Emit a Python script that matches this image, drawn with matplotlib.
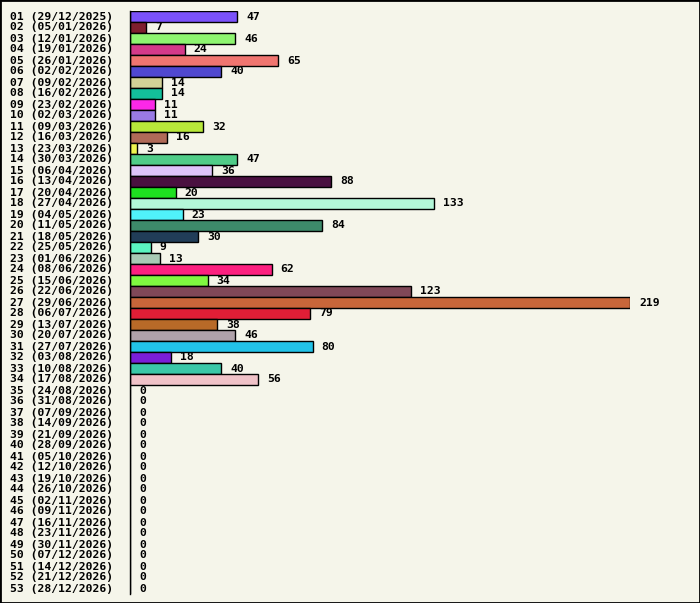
import matplotlib.pyplot as plt
from matplotlib.patches import Rectangle

WEEKS = [f"{i:02d}" for i in range(1, 54)]
DATES = [
    "29/12/2025", "05/01/2026", "12/01/2026", "19/01/2026", "26/01/2026",
    "02/02/2026", "09/02/2026", "16/02/2026", "23/02/2026", "02/03/2026",
    "09/03/2026", "16/03/2026", "23/03/2026", "30/03/2026", "06/04/2026",
    "13/04/2026", "20/04/2026", "27/04/2026", "04/05/2026", "11/05/2026",
    "18/05/2026", "25/05/2026", "01/06/2026", "08/06/2026", "15/06/2026",
    "22/06/2026", "29/06/2026", "06/07/2026", "13/07/2026", "20/07/2026",
    "27/07/2026", "03/08/2026", "10/08/2026", "17/08/2026", "24/08/2026",
    "31/08/2026", "07/09/2026", "14/09/2026", "21/09/2026", "28/09/2026",
    "05/10/2026", "12/10/2026", "19/10/2026", "26/10/2026", "02/11/2026",
    "09/11/2026", "16/11/2026", "23/11/2026", "30/11/2026", "07/12/2026",
    "14/12/2026", "21/12/2026", "28/12/2026",
]
VALUES = [47, 7, 46, 24, 65, 40, 14, 14, 11, 11, 32, 16, 3, 47, 36, 88, 20,
          133, 23, 84, 30, 9, 13, 62, 34, 123, 219, 79, 38, 46, 80, 18, 40, 56] + [0] * 19
COLORS = [
    "#7b52fa", "#7f1f2f", "#8ef570", "#d43a8a", "#f07570", "#5048d0",
    "#d3d197", "#13bf9a", "#fc28e8", "#9a7ae5", "#b8e83a", "#b06a58",
    "#eef550", "#50cc88", "#dec3fa", "#4a1040", "#1ee020", "#b3f7d8",
    "#50f2fa", "#3d8a6a", "#213d58", "#5af5c0", "#a8cab5", "#fc2080",
    "#80f840", "#804858", "#c8663a", "#e01e36", "#b86a28", "#b0a2aa",
    "#22c2e8", "#7a1ed8", "#3ac8a8", "#f0c2c8",
] + ["#cccccc"] * 19

BG = "#f5f5ea"
W, H = 700, 603

fig = plt.figure(figsize=(W / 100, H / 100), dpi=100, facecolor=BG)
ax = fig.add_axes([130 / W, 9 / H, 500 / W, 583 / H])
ax.set_facecolor(BG)

labels = [f"{w} ({d})" for w, d in zip(WEEKS, DATES)]
ys = list(range(len(VALUES)))
ax.barh(ys, VALUES, height=1.0, color=COLORS, edgecolor="black", linewidth=1.0)

font = dict(family="DejaVu Sans Mono", weight="bold", fontsize=8.2)
for y, v, lab in zip(ys, VALUES, labels):
    ax.annotate(str(v), (v, y), xytext=(6.5, 0), textcoords="offset points",
                va="center", ha="left", annotation_clip=False, **font)
    ax.annotate(lab, (0, y), xytext=(-120 * 0.72, 0), textcoords="offset points",
                va="center", ha="left", annotation_clip=False, **font)

ax.set_xlim(0, max(VALUES))
ax.set_ylim(len(VALUES) - 0.5, -0.5)
for s in ["top", "right", "bottom"]:
    ax.spines[s].set_visible(False)
ax.spines["left"].set_linewidth(1.0)
ax.set_xticks([])
ax.set_yticks([])

fig.patches.append(Rectangle((0, 0), 1, 1, transform=fig.transFigure,
                             fill=False, edgecolor="black", linewidth=2))

fig.savefig("out.png", dpi=100, facecolor=BG)
